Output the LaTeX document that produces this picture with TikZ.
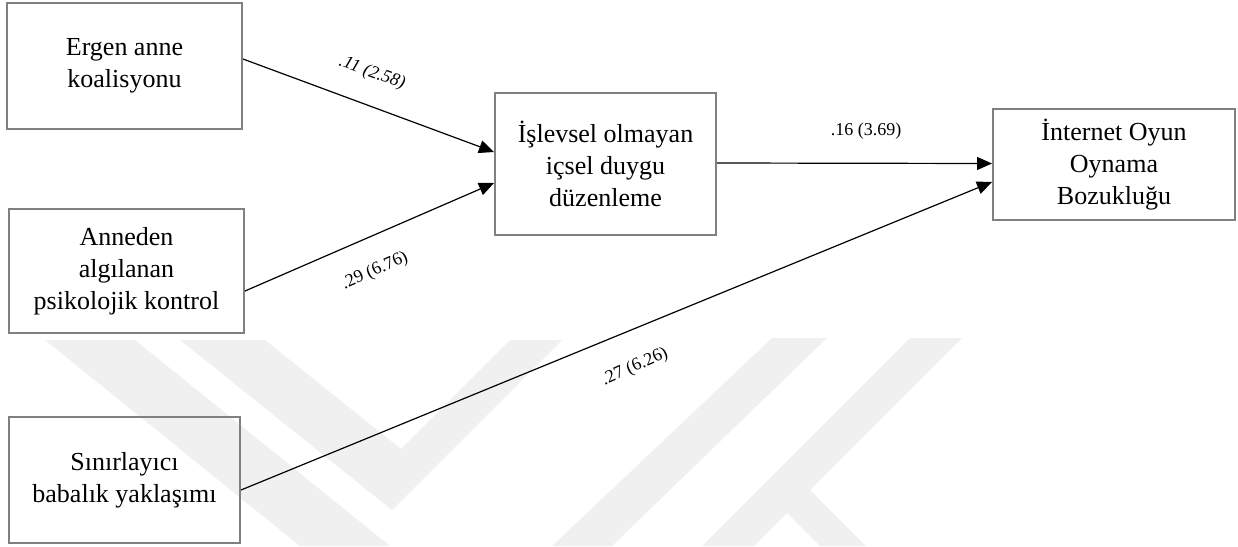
\documentclass[tikz,border=0pt]{standalone}
\usepackage{fontspec}
\setmainfont{Liberation Serif}
\usetikzlibrary{arrows.meta}
\tikzset{
  box/.style={draw=black!50, line width=2pt, align=center, inner sep=0pt,
    font=\fontsize{26}{32}\selectfont},
  conn/.style={line width=1.2pt, -{Triangle[length=15pt,width=13pt]}},
  coef/.style={font=\fontsize{18}{21}\selectfont, fill=white, inner sep=5pt},
  wm/.style={fill=black!6, draw=none}
}
\begin{document}
\begin{tikzpicture}[x=1pt,y=-1pt]
\useasboundingbox (0,0) rectangle (1238,546);
% watermark
\fill[wm] (45,340) -- (135,340) -- (390,546) -- (300,546) -- cycle;
\fill[wm] (180,340) -- (265,340) -- (401,449) -- (510,340) -- (562,340) -- (392,510) -- cycle;
\fill[wm] (772,338) -- (827,338) -- (612,546) -- (552,546) -- cycle;
\fill[wm] (910,338) -- (962,338) -- (810,490) -- (866,546) -- (820,546) -- (787,513) -- (754,546) -- (702,546) -- cycle;
% boxes
\node[box, minimum width=235pt, minimum height=126pt] (b1) at (124.5,66) {Ergen anne\\koalisyonu};
\node[box, minimum width=235pt, minimum height=124pt] (b2) at (126.5,271) {Anneden\\algılanan\\psikolojik kontrol};
\node[box, minimum width=231pt, minimum height=126pt] (b3) at (124.5,480) {Sınırlayıcı\\babalık yaklaşımı};
\node[box, minimum width=221pt, minimum height=142pt] (m) at (605.5,164) {İşlevsel olmayan\\içsel duygu\\düzenleme};
\node[box, minimum width=242pt, minimum height=111pt] (r) at (1114,164.5) {İnternet Oyun\\Oynama\\Bozukluğu};
% connectors
\draw[conn] ([yshift=7pt]b1.east) -- ([yshift=12pt]m.west);
\draw[conn] ([yshift=-20pt]b2.east) -- ([yshift=-19pt]m.west);
\draw[conn] ([yshift=1pt]m.east) -- ([yshift=1pt]r.west);
\draw[conn] ([yshift=-10pt]b3.east) -- ([yshift=-17.5pt]r.west);
% coefficients
\node[coef, rotate=-20] (l1) at (372,73) {\itshape .11 (2.58)};
\node[coef, rotate=24] (l2) at (375,271) {.29 (6.76)};
\node[coef, rotate=24, inner sep=8pt] (l4) at (635,367) {.27 (6.26)};
\node[coef] (l3) at (866,131) {.16 (3.69)};
\end{tikzpicture}
\end{document}
